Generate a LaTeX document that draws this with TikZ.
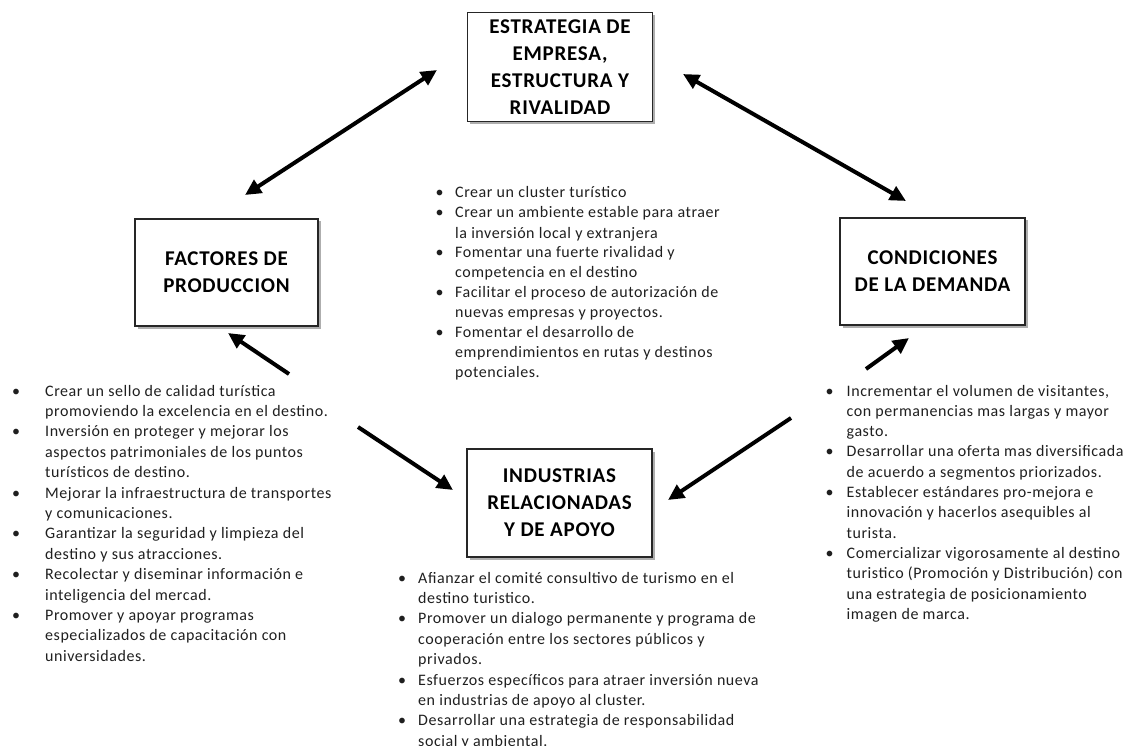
\documentclass[tikz,border=0pt]{standalone}
\usepackage{fontspec}
\setmainfont{Carlito}
\newfontfamily\listfont[LetterSpace=3.5]{Carlito}
\newfontfamily\boxfont[LetterSpace=3.5]{Carlito}
\usetikzlibrary{arrows.meta,shadows}
\tikzset{
  box/.style={draw=black!85, line width=1.2pt, fill=white, align=center, inner sep=0pt,
    font=\boxfont\bfseries\fontsize{21}{27}\selectfont,
    drop shadow={shadow xshift=2.5pt, shadow yshift=-2.5pt, opacity=0.45, fill=black!70}},
  listtext/.style={anchor=base west, inner sep=0pt, text=black!88},
  bigarrow/.style={line width=4pt, -{Triangle[length=16pt,width=15pt]}},
  dblarrow/.style={line width=4pt, {Triangle[length=16pt,width=15pt]}-{Triangle[length=16pt,width=15pt]}}
}
\begin{document}
\begin{tikzpicture}[x=1pt,y=-1pt]
\useasboundingbox (0,0) rectangle (1135,746);

% boxes
\node[box, minimum width=185pt, minimum height=109pt] (estr) at (560,67)
  {ESTRATEGIA DE\\EMPRESA,\\ESTRUCTURA Y\\RIVALIDAD};
\node[box, minimum width=183pt, minimum height=107pt] (fact) at (226.5,272.5)
  {FACTORES DE\\PRODUCCION};
\node[box, minimum width=185pt, minimum height=107pt] (cond) at (932.5,271.5)
  {CONDICIONES\\DE LA DEMANDA};
\node[box, minimum width=185pt, minimum height=108pt] (ind) at (559.5,503)
  {INDUSTRIAS\\RELACIONADAS\\Y DE APOYO};

% arrow end points
\coordinate (a1s) at (245,195);
\coordinate (a1e) at (437,70);
\coordinate (a2s) at (683,74);
\coordinate (a2e) at (906,201);
\coordinate (a3s) at (289,374);
\coordinate (a3e) at (228,333);
\coordinate (a4s) at (358,427);
\coordinate (a4e) at (453,490);
\coordinate (a5s) at (866,369);
\coordinate (a5e) at (909,338);
\coordinate (a6s) at (791,418);
\coordinate (a6e) at (668,500);

\draw[dblarrow] (a1s) -- (a1e);
\draw[dblarrow] (a2s) -- (a2e);
\draw[bigarrow] (a3s) -- (a3e);
\draw[bigarrow] (a4s) -- (a4e);
\draw[bigarrow] (a5s) -- (a5e);
\draw[bigarrow] (a6s) -- (a6e);

% center list
\node[listtext] (lcen) at (435.5,198) {\listfont\fontsize{16}{20}\selectfont
\begin{tabular}[t]{@{}p{19.5pt}@{}l@{}}
• & Crear un cluster turístico\\
• & Crear un ambiente estable para atraer\\
  & la inversión local y extranjera\\
• & Fomentar una fuerte rivalidad y\\
  & competencia en el destino\\
• & Facilitar el proceso de autorización de\\
  & nuevas empresas y proyectos.\\
• & Fomentar el desarrollo de\\
  & emprendimientos en rutas y destinos\\
  & potenciales.
\end{tabular}};

% left list
\node[listtext] (lleft) at (12,396) {\listfont\fontsize{16}{20.4}\selectfont
\begin{tabular}[t]{@{}p{33pt}@{}l@{}}
• & Crear un sello de calidad turística\\
  & promoviendo la excelencia en el destino.\\
• & Inversión en proteger y mejorar los\\
  & aspectos patrimoniales de los puntos\\
  & turísticos de destino.\\
• & Mejorar la infraestructura de transportes\\
  & y comunicaciones.\\
• & Garantizar la seguridad y limpieza del\\
  & destino y sus atracciones.\\
• & Recolectar y diseminar información e\\
  & inteligencia del mercad.\\
• & Promover y apoyar programas\\
  & especializados de capacitación con\\
  & universidades.
\end{tabular}};

% right list
\node[listtext] (lright) at (825.5,396) {\listfont\fontsize{16}{20.3}\selectfont
\begin{tabular}[t]{@{}p{21pt}@{}l@{}}
• & Incrementar el volumen de visitantes,\\
  & con permanencias mas largas y mayor\\
  & gasto.\\
• & Desarrollar una oferta mas diversificada\\
  & de acuerdo a segmentos priorizados.\\
• & Establecer estándares pro-mejora e\\
  & innovación y hacerlos asequibles al\\
  & turista.\\
• & Comercializar vigorosamente al destino\\
  & turistico (Promoción y Distribución) con\\
  & una estrategia de posicionamiento\\
  & imagen de marca.
\end{tabular}};

% bottom list
\node[listtext] (lbot) at (398,583) {\listfont\fontsize{16}{20.4}\selectfont
\begin{tabular}[t]{@{}p{20pt}@{}l@{}}
• & Afianzar el comité consultivo de turismo en el\\
  & destino turistico.\\
• & Promover un dialogo permanente y programa de\\
  & cooperación entre los sectores públicos y\\
  & privados.\\
• & Esfuerzos específicos para atraer inversión nueva\\
  & en industrias de apoyo al cluster.\\
• & Desarrollar una estrategia de responsabilidad\\
  & social y ambiental.
\end{tabular}};
\end{tikzpicture}
\end{document}
